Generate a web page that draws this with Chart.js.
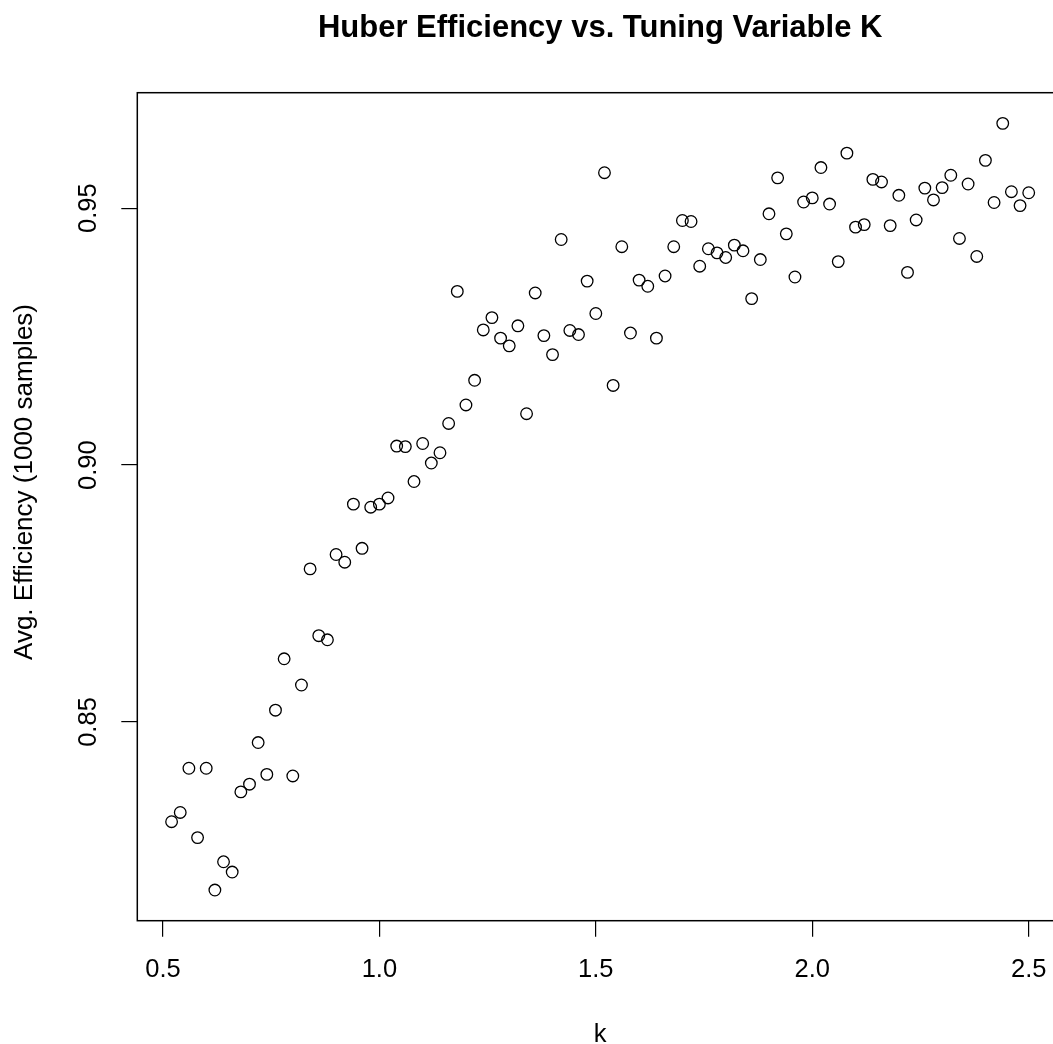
<!DOCTYPE html>
<html>
<head>
<meta charset="utf-8">
<title>Huber Efficiency vs. Tuning Variable K</title>
<script src="https://cdn.jsdelivr.net/npm/chart.js@4.4.1/dist/chart.umd.min.js"></script>
<style>
  html, body { margin: 0; padding: 0; background: #fff; overflow: hidden; }
  #wrap { width: 1080px; height: 1060px; }
</style>
</head>
<body>
<div id="wrap"><canvas id="chart" width="1080" height="1060"></canvas></div>
<script>
/* ── Data ─────────────────────────────────────────────────────── */
const K_VALUES = [
    0.52, 0.54, 0.56, 0.58, 0.60, 0.62, 0.64, 0.66, 0.68, 0.70,
    0.72, 0.74, 0.76, 0.78, 0.80, 0.82, 0.84, 0.86, 0.88, 0.90,
    0.92, 0.94, 0.96, 0.98, 1.00, 1.02, 1.04, 1.06, 1.08, 1.10,
    1.12, 1.14, 1.16, 1.18, 1.20, 1.22, 1.24, 1.26, 1.28, 1.30,
    1.32, 1.34, 1.36, 1.38, 1.40, 1.42, 1.44, 1.46, 1.48, 1.50,
    1.52, 1.54, 1.56, 1.58, 1.60, 1.62, 1.64, 1.66, 1.68, 1.70,
    1.72, 1.74, 1.76, 1.78, 1.80, 1.82, 1.84, 1.86, 1.88, 1.90,
    1.92, 1.94, 1.96, 1.98, 2.00, 2.02, 2.04, 2.06, 2.08, 2.10,
    2.12, 2.14, 2.16, 2.18, 2.20, 2.22, 2.24, 2.26, 2.28, 2.30,
    2.32, 2.34, 2.36, 2.38, 2.40, 2.42, 2.44, 2.46, 2.48, 2.50
];

const EFFICIENCY = [
    0.8306, 0.8324, 0.8410, 0.8275, 0.8410, 0.8173, 0.8228, 0.8208, 0.8364, 0.8379,
    0.8460, 0.8398, 0.8523, 0.8623, 0.8395, 0.8572, 0.8798, 0.8668, 0.8660, 0.8826,
    0.8811, 0.8924, 0.8838, 0.8918, 0.8924, 0.8936, 0.9037, 0.9036, 0.8968, 0.9042,
    0.9004, 0.9024, 0.9081, 0.9338, 0.9117, 0.9165, 0.9263, 0.9287, 0.9247, 0.9232,
    0.9271, 0.9100, 0.9335, 0.9252, 0.9215, 0.9439, 0.9262, 0.9254, 0.9358, 0.9295,
    0.9569, 0.9155, 0.9425, 0.9257, 0.9360, 0.9348, 0.9247, 0.9368, 0.9425, 0.9476,
    0.9474, 0.9387, 0.9421, 0.9413, 0.9404, 0.9428, 0.9417, 0.9324, 0.9400, 0.9489,
    0.9559, 0.9450, 0.9366, 0.9512, 0.9520, 0.9579, 0.9508, 0.9396, 0.9607, 0.9463,
    0.9468, 0.9556, 0.9551, 0.9466, 0.9525, 0.9375, 0.9477, 0.9539, 0.9516, 0.9540,
    0.9564, 0.9441, 0.9547, 0.9406, 0.9593, 0.9511, 0.9665, 0.9532, 0.9505, 0.9530
];

const X_TICKS = [0.5, 1.0, 1.5, 2.0, 2.5];
const Y_TICKS = [0.85, 0.90, 0.95];

const FONT = "'Liberation Sans', Arial, Helvetica, sans-serif";

// rango con 4% extra, como hace R
function paddedRange(values) {
    const lo = Math.min(...values), hi = Math.max(...values);
    const pad = (hi - lo) * 0.04;
    return [lo - pad, hi + pad];
}
const [xMin, xMax] = paddedRange(K_VALUES);
const [yMin, yMax] = paddedRange(EFFICIENCY);

/* ── Caja del área de dibujo + título del eje Y ───────────────── */
const plotBox = {
    id: 'plotBox',
    afterDraw(chart) {
        const { ctx, chartArea: a } = chart;
        ctx.save();
        ctx.strokeStyle = '#000';
        ctx.lineWidth = 1.5;
        ctx.strokeRect(a.left, a.top, a.right - a.left, a.bottom - a.top);

        ctx.translate(25, 482);
        ctx.rotate(-Math.PI / 2);
        ctx.font = `26px ${FONT}`;
        ctx.fillStyle = '#000';
        ctx.textAlign = 'center';
        ctx.textBaseline = 'middle';
        ctx.fillText('Avg. Efficiency (1000 samples)', 0, 0);
        ctx.restore();
    }
};

const tickGrid = {
    drawOnChartArea: false,
    drawTicks: true,
    tickLength: 16,
    color: '#000',
    lineWidth: 1.2
};

new Chart(document.getElementById('chart'), {
    type: 'scatter',
    data: {
        datasets: [{
            data: K_VALUES.map((k, i) => ({ x: k, y: EFFICIENCY[i] })),
            pointStyle: 'circle',
            pointRadius: 5.8,
            pointHoverRadius: 5.8,
            borderColor: '#000',
            backgroundColor: 'rgba(0,0,0,0)',
            borderWidth: 1.3
        }]
    },
    options: {
        responsive: false,
        animation: false,
        devicePixelRatio: 1,
        layout: { padding: { left: 0, right: 17, top: 0, bottom: 0 } },
        plugins: {
            legend: { display: false },
            tooltip: { enabled: false },
            title: {
                display: true,
                text: 'Huber Efficiency vs. Tuning Variable K',
                fullSize: false,
                color: '#000',
                font: { family: FONT, size: 31, weight: 'bold', lineHeight: 1.2 },
                padding: { top: 9.6, bottom: 45.9 }
            }
        },
        scales: {
            x: {
                type: 'linear',
                min: xMin,
                max: xMax,
                afterBuildTicks: s => { s.ticks = X_TICKS.map(v => ({ value: v })); },
                afterFit: s => { s.height = 139.3; },
                border: { display: false },
                grid: tickGrid,
                ticks: {
                    color: '#000',
                    padding: 18.3,
                    maxRotation: 0,
                    autoSkip: false,
                    font: { family: FONT, size: 25.5 },
                    callback: v => v.toFixed(1)
                },
                title: {
                    display: true,
                    text: 'k',
                    color: '#000',
                    font: { family: FONT, size: 25.5, lineHeight: 1.2 },
                    padding: { top: 0, bottom: 9.7 }
                }
            },
            y: {
                type: 'linear',
                min: yMin,
                max: yMax,
                afterBuildTicks: s => { s.ticks = Y_TICKS.map(v => ({ value: v })); },
                afterFit: s => { s.width = 137.3; },
                border: { display: false },
                grid: tickGrid,
                ticks: {
                    color: '#000',
                    minRotation: 90,
                    maxRotation: 90,
                    crossAlign: 'center',
                    padding: 7.5,
                    autoSkip: false,
                    font: { family: FONT, size: 25.5 },
                    callback: v => v.toFixed(2)
                }
            }
        }
    },
    plugins: [plotBox]
});
</script>
</body>
</html>
